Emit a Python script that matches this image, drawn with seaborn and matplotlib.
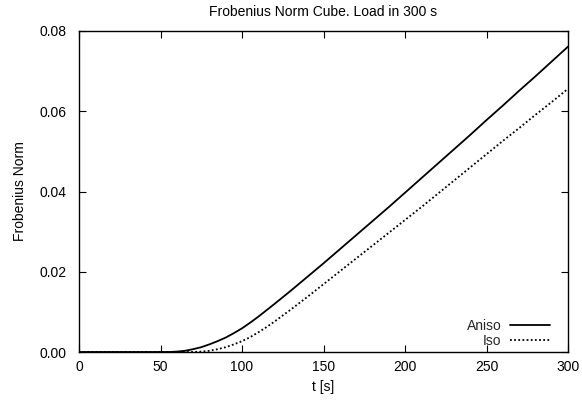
import matplotlib
matplotlib.use("Agg")
import matplotlib.pyplot as plt
import seaborn as sns
import pandas as pd

t = [0, 10, 20, 30, 40, 50, 55, 60, 65, 70, 75, 80, 85, 90, 95, 100, 105, 110, 115,
     120, 130, 140, 150, 160, 170, 180, 190, 200, 210, 220, 230, 240, 250, 260, 270,
     280, 290, 300]
aniso = [0, 0, 0, 0, 0, 0, 0, 0.0001, 0.0003, 0.0007, 0.0012, 0.0019, 0.0027, 0.0036,
         0.0047, 0.0059, 0.0073, 0.0088, 0.0104,
         0.0120, 0.0153, 0.0187, 0.0221, 0.0256, 0.0291, 0.0326, 0.0361, 0.0397, 0.0433,
         0.0469, 0.0505, 0.0541, 0.0578, 0.0614, 0.0651, 0.0687, 0.0724, 0.0761]
iso = [0, 0, 0, 0, 0, 0, 0, 0, 0, 0, 0.0001, 0.0003, 0.0007, 0.0012,
       0.0019, 0.0027, 0.0037, 0.0049, 0.0062,
       0.0076, 0.0106, 0.0137, 0.0169, 0.0201, 0.0233, 0.0265, 0.0297, 0.0329, 0.0361,
       0.0394, 0.0427, 0.0460, 0.0493, 0.0526, 0.0558, 0.0591, 0.0623, 0.0656]

title = "Frobenius Norm Cube. Load in 300 s"
xlabel = "t [s]"
ylabel = "Frobenius Norm"
xticks = [0, 50, 100, 150, 200, 250, 300]
yticks = [0.00, 0.02, 0.04, 0.06, 0.08]

sns.set_theme(style="white")
plt.rcParams["font.family"] = ["Liberation Sans", "DejaVu Sans"]
plt.rcParams["font.size"] = 10

df = pd.DataFrame({"t": t, "Aniso": aniso, "Iso": iso})

fig = plt.figure(figsize=(5.82, 4.03), dpi=100)
ax = fig.add_axes([79 / 582, 1 - 352 / 403, (568 - 79) / 582, (352 - 31) / 403])

sns.lineplot(data=df, x="t", y="Aniso", ax=ax, color="black", lw=1.3, label="Aniso")
sns.lineplot(data=df, x="t", y="Iso", ax=ax, color="black", lw=1.3,
             linestyle=(0, (1, 1.3)), label="Iso")

ax.set_xlim(0, 300)
ax.set_ylim(0, 0.08)
ax.set_xticks(xticks)
ax.set_xticklabels([str(v) for v in xticks], fontsize=10)
ax.set_yticks(yticks)
ax.set_yticklabels([f"{v:.2f}" for v in yticks], fontsize=10)
ax.tick_params(direction="in", length=5, width=0.8, top=True, right=True,
               bottom=True, left=True, color="black", labelcolor="black")
ax.tick_params(axis="y", pad=9)
ax.tick_params(axis="x", pad=6)
for s in ax.spines.values():
    s.set_color("black")
    s.set_linewidth(1.0)

ax.set_title(title, fontsize=10, pad=11, color="black")
ax.set_xlabel(xlabel, fontsize=10, color="black", labelpad=4)
ax.set_ylabel(ylabel, fontsize=10, color="black", labelpad=9)

leg = ax.legend(loc="lower right", bbox_to_anchor=(0.975, -0.005), frameon=False,
                markerfirst=False, handlelength=2.9, handletextpad=0.6,
                labelspacing=0.05, borderaxespad=0, fontsize=10)

fig.savefig("out.png", dpi=100)
